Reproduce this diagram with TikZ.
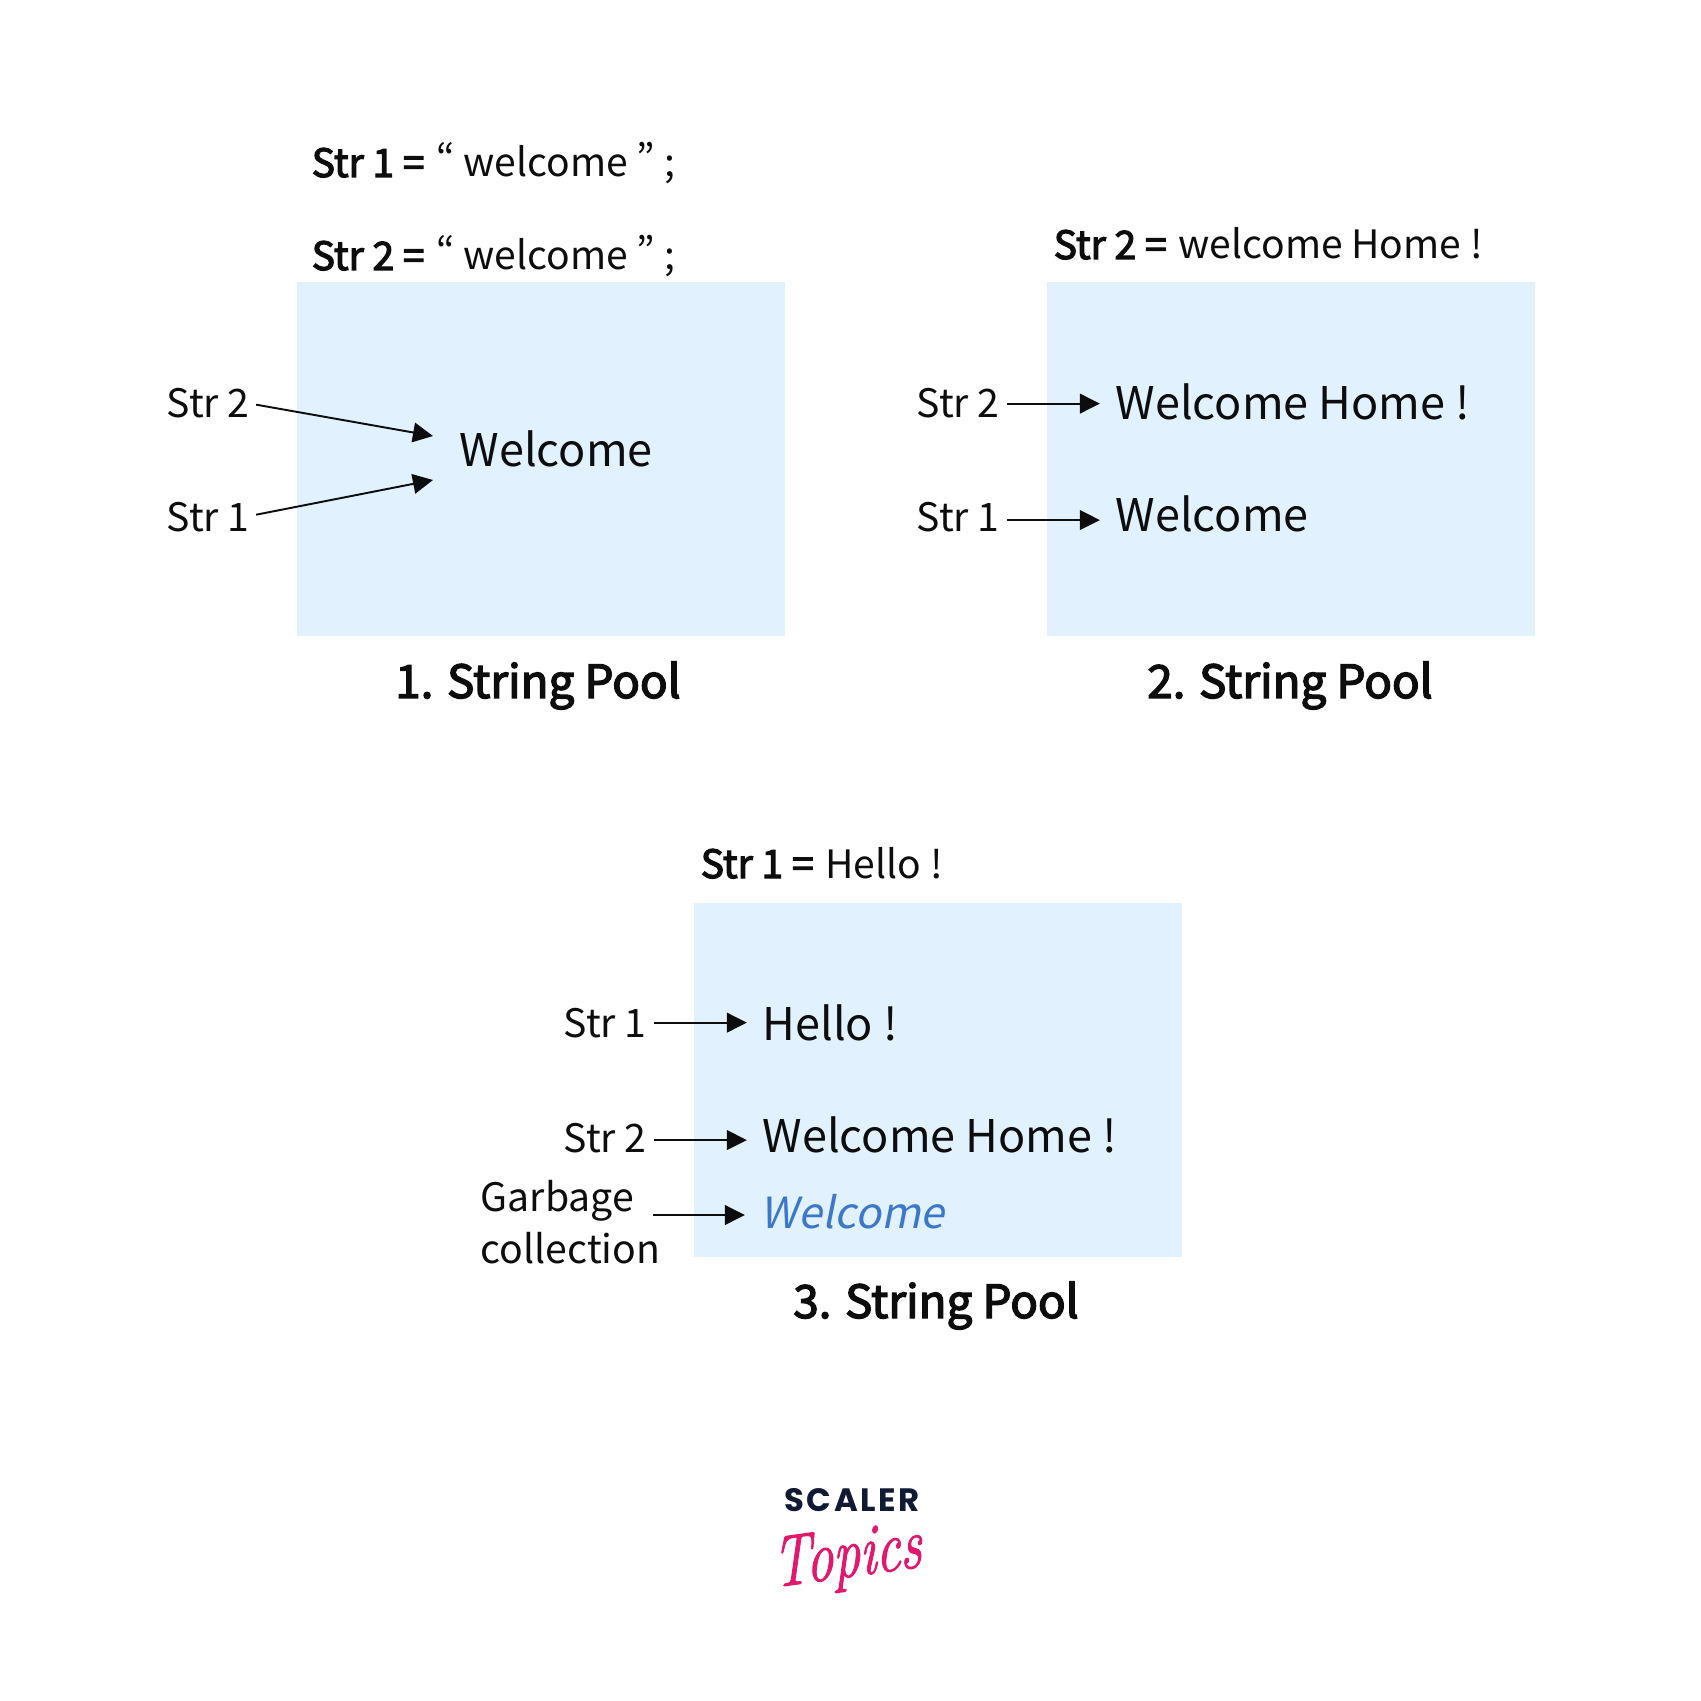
\documentclass[tikz,border=0pt]{standalone}
\usepackage{fontspec}
\setmainfont[RawFeature=+pwid]{Noto Sans CJK SC}
\newfontfamily\heavyfont[RawFeature=+pwid, FakeBold=3]{Noto Sans CJK SC}
\newfontfamily\slantfont[RawFeature=+pwid, FakeSlant=0.2]{Noto Sans CJK SC}
\newfontfamily\logofont[LetterSpace=8]{Poppins}
\newfontfamily\topicsfont[FakeBold=1.6]{Latin Modern Roman}
\usetikzlibrary{arrows.meta}
\definecolor{poolblue}{HTML}{E1F2FE}
\definecolor{textblack}{HTML}{0D0D0D}
\definecolor{fadeblue}{HTML}{3D78C8}
\definecolor{logonavy}{HTML}{111A33}
\definecolor{logopink}{HTML}{E2186F}
\tikzset{
    pool/.style={fill=poolblue, draw=none},
    strlabel/.style={anchor=base west, inner sep=0pt, text=textblack, font=\fontsize{11.15}{14}\selectfont},
    pooltext/.style={anchor=base west, inner sep=0pt, text=textblack, font=\fontsize{12.8}{17}\selectfont},
    header/.style={anchor=base west, inner sep=0pt, text=textblack, font=\fontsize{11.1}{14}\selectfont},
    pooltitle/.style={anchor=base, inner sep=0pt, text=textblack, font=\fontsize{13}{16}\selectfont\heavyfont},
    conn/.style={-{Triangle[length=5.7pt, width=5.6pt]}, line width=0.55pt, textblack},
}
\newcommand{\strpart}[1]{{\heavyfont #1}\kern0.9pt\relax}
\begin{document}
\begin{tikzpicture}[x=0.01cm, y=-0.01cm]
    \useasboundingbox (0,0) rectangle (1701,1701);

    % Pool boxes
    \fill[pool] (297,282) rectangle (785,636);
    \fill[pool] (1047,282) rectangle (1535,636);
    \fill[pool] (694,903) rectangle (1182,1257);

    % First pool
    \node[header] (headAa) at (311,177) {\strpart{Str 1 =} “ welcome ” ;};
    \node[header] (headAb) at (311,270) {\strpart{Str 2 =} “ welcome ” ;};
    \node[strlabel] (strAb) at (166,418) {Str 2};
    \node[strlabel] (strAa) at (166,532) {Str 1};
    \node[pooltext] (welA) at (459,467) {Welcome};
    \node[pooltitle] (titleA) at (538,698) {1. String Pool};
    \coordinate (tipAb) at (433,436);
    \coordinate (tipAa) at (433,480);
    \draw[conn, shorten <=1.7pt] (strAb.east) -- (tipAb);
    \draw[conn, shorten <=1.7pt] ([yshift=0.5pt]strAa.east) -- (tipAa);

    % Second pool
    \node[header] (headB) at (1053,259) {\strpart{Str 2 =} welcome Home !};
    \node[strlabel] (strBb) at (916,418) {Str 2};
    \node[strlabel] (strBa) at (916,532) {Str 1};
    \node[pooltext] (homeB) at (1115,420) {Welcome Home !};
    \node[pooltext] (welB) at (1115,532) {Welcome};
    \node[pooltitle] (titleB) at (1290,698) {2. String Pool};
    \draw[conn, shorten <=2pt, shorten >=4.3pt] (strBb.east) -- (strBb.east -| homeB.west);
    \draw[conn, shorten <=2pt, shorten >=4.3pt] ([yshift=-0.7pt]strBa.east) -- ([yshift=-0.7pt]strBa.east -| welB.west);

    % Third pool
    \node[header] (headC) at (700,878) {\strpart{Str 1 =} Hello !};
    \node[strlabel] (strCa) at (563,1037) {Str 1};
    \node[strlabel] (strCb) at (563,1152) {Str 2};
    \node[strlabel] (garbage) at (480,1211) {Garbage};
    \node[strlabel] (collect) at (480,1263) {collection};
    \node[pooltext] (helloC) at (762,1040) {Hello !};
    \node[pooltext] (homeC) at (762,1152) {Welcome Home !};
    \node[pooltext, text=fadeblue, font=\fontsize{12.2}{17}\selectfont\slantfont] (welC) at (760,1228) {Welcome};
    \node[pooltitle] (titleC) at (936,1318) {3. String Pool};
    \coordinate (startC) at (653,1215);
    \draw[conn, shorten <=2pt, shorten >=4.3pt] (strCa.east) -- (strCa.east -| helloC.west);
    \draw[conn, shorten <=2pt, shorten >=4.3pt] ([yshift=-0.7pt]strCb.east) -- ([yshift=-0.7pt]strCb.east -| homeC.west);
    \draw[conn, shorten >=4.3pt] (startC) -- (startC -| welC.west);

    % Logo
    \node[anchor=base, inner sep=0pt, text=logonavy, font=\fontsize{9.2}{10}\selectfont\logofont\bfseries] (logoA) at (852,1511) {SCALER};
    \node[anchor=base, inner sep=0pt, text=logopink, rotate=8, xslant=0.1, xscale=0.75, font=\fontsize{20.5}{24}\selectfont\topicsfont\itshape] (logoB) at (848,1577) {Topics};
\end{tikzpicture}
\end{document}
